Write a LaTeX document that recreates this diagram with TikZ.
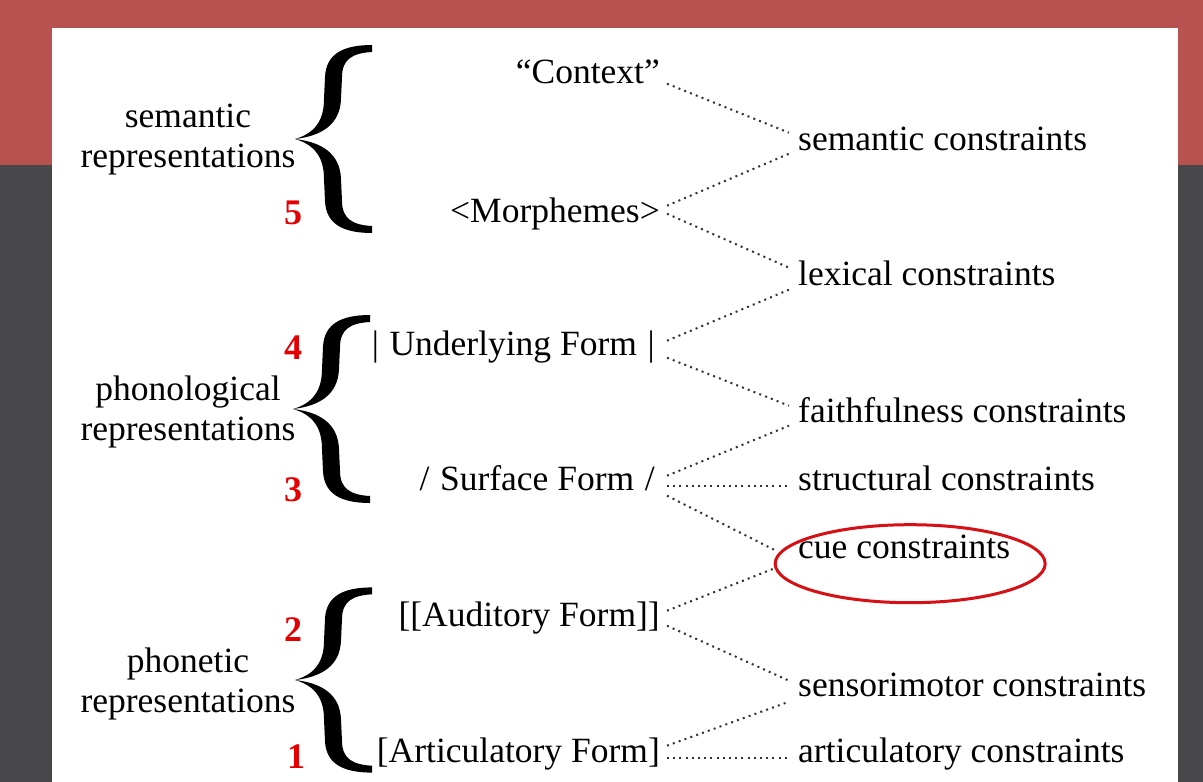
\documentclass[tikz,border=0pt]{standalone}
\usepackage{fontspec}
\setmainfont{Liberation Serif}
\usepackage{xcolor}
\usepackage{tikz}
\usetikzlibrary{positioning,calc}

\definecolor{bandred}{RGB}{183,82,80}
\definecolor{slate}{RGB}{72,72,75}
\definecolor{numred}{RGB}{228,0,0}
\definecolor{ringred}{RGB}{214,16,20}

\tikzset{
  form/.style={anchor=base east,inner xsep=7pt,inner ysep=0pt,text height=0.68em,text depth=0.22em},
  cons/.style={anchor=base west,inner xsep=9pt,inner ysep=0pt,text height=0.68em,text depth=0.22em},
  level/.style={align=center,inner sep=0pt},
  num/.style={text=numred,font=\fontsize{36}{36}\selectfont\bfseries,inner sep=0pt},
  link/.style={line width=2pt,dash pattern=on 2pt off 4.2pt,black!80},
  ring/.style={line width=3pt,ringred},
  bigbrace/.pic={
    \foreach \s in {1,-1}
      \fill[black,yscale=\s] (0,0) .. controls (21,-6) and (29,-20) .. (29,-40)
        -- (30,-62) .. controls (31,-85) and (48,-94) .. (77,-94)
        -- (77,-87) .. controls (58,-86) and (47,-80) .. (47,-62)
        -- (46,-40) .. controls (45,-14) and (26,-3) .. (0,0) -- cycle;
  }
}

\begin{document}
\begin{tikzpicture}[x=1pt,y=-1pt,font=\fontsize{35.5}{40}\selectfont]
        \useasboundingbox (0,0) rectangle (1203,782);
        \fill[slate]   (0,0) rectangle (1203,782);
        \fill[bandred] (0,0) rectangle (1203,165);
        \fill[white]   (52,28) rectangle (1178,782);

        % levels and braces
        \node[level] (semlvl) at (188,140) {semantic\\representations};
        \node[level] (phonlvl) at (188,412) {phonological\\representations};
        \node[level] (phetlvl) at (188,684) {phonetic\\representations};
        \pic at (295,139) {bigbrace};
        \pic at (293,409) {bigbrace};
        \pic[yscale=0.985] at (295,680) {bigbrace};
        \node[num] (n5) at (293,213) {5};
        \node[num] (n4) at (293,348) {4};
        \node[num] (n3) at (293,490) {3};
        \node[num] (n2) at (293,630) {2};
        \node[num] (n1) at (296,757) {1};

        % representations
        \node[form] (ctx)  at (667,83)  {``Context''};
        \node[form] (morph) at (667,222) {<Morphemes>};
        \node[form] (und)  at (662,355) {|\hspace{0.3em}Underlying Form\hspace{0.3em}|};
        \node[form] (surf) at (662,490) {/\hspace{0.3em}Surface Form\hspace{0.3em}/};
        \node[form] (aud)  at (667,626) {[[Auditory Form]]};
        \node[form] (art)  at (667,762) {[Articulatory Form]};

        % constraints
        \node[cons] (semc)   at (789,150) {semantic constraints};
        \node[cons] (lexc)   at (789,285) {lexical constraints};
        \node[cons] (faithc) at (789,422) {faithfulness constraints};
        \node[cons] (strucc) at (789,490) {structural constraints};
        \node[cons] (cuec)   at (789,558) {cue constraints};
        \node[cons] (sensc)  at (789,696) {sensorimotor constraints};
        \node[cons] (artc)   at (789,762) {articulatory constraints};
        \draw[ring] ([xshift=6pt,yshift=-8pt]cuec.center) ellipse [x radius=135, y radius=39];

        \draw[link] ([yshift=-3pt]ctx.east)   -- ([yshift=15pt]semc.west);
        \draw[link] ([yshift=14pt]morph.east) -- ([yshift=-6pt]semc.west);
        \draw[link] ([yshift=6pt]morph.east)  -- ([yshift=15pt]lexc.west);
        \draw[link] ([xshift=5pt,yshift=12pt]und.east) -- ([yshift=-7pt]lexc.west);
        \draw[link] ([xshift=5pt,yshift=-5pt]und.east) -- ([yshift=14pt]faithc.west);
        \draw[link] ([xshift=5pt,yshift=12pt]surf.east) -- ([yshift=-6pt]faithc.west);
        \draw[link] ([xshift=5pt,yshift=2pt]surf.east)  -- ([yshift=2pt]strucc.west);
        \draw[link] ([xshift=5pt,yshift=-8pt]surf.east) -- ([xshift=-13pt,yshift=5pt]cuec.west);
        \draw[link] ([yshift=13pt]aud.east)  -- ([xshift=-13pt,yshift=-12pt]cuec.west);
        \draw[link] ([yshift=-2pt]aud.east)  -- ([yshift=13pt]sensc.west);
        \draw[link] ([yshift=14pt]art.east)  -- ([yshift=-8pt]sensc.west);
        \draw[link] ([yshift=2pt]art.east)   -- ([yshift=2pt]artc.west);
    \end{tikzpicture}
\end{document}
